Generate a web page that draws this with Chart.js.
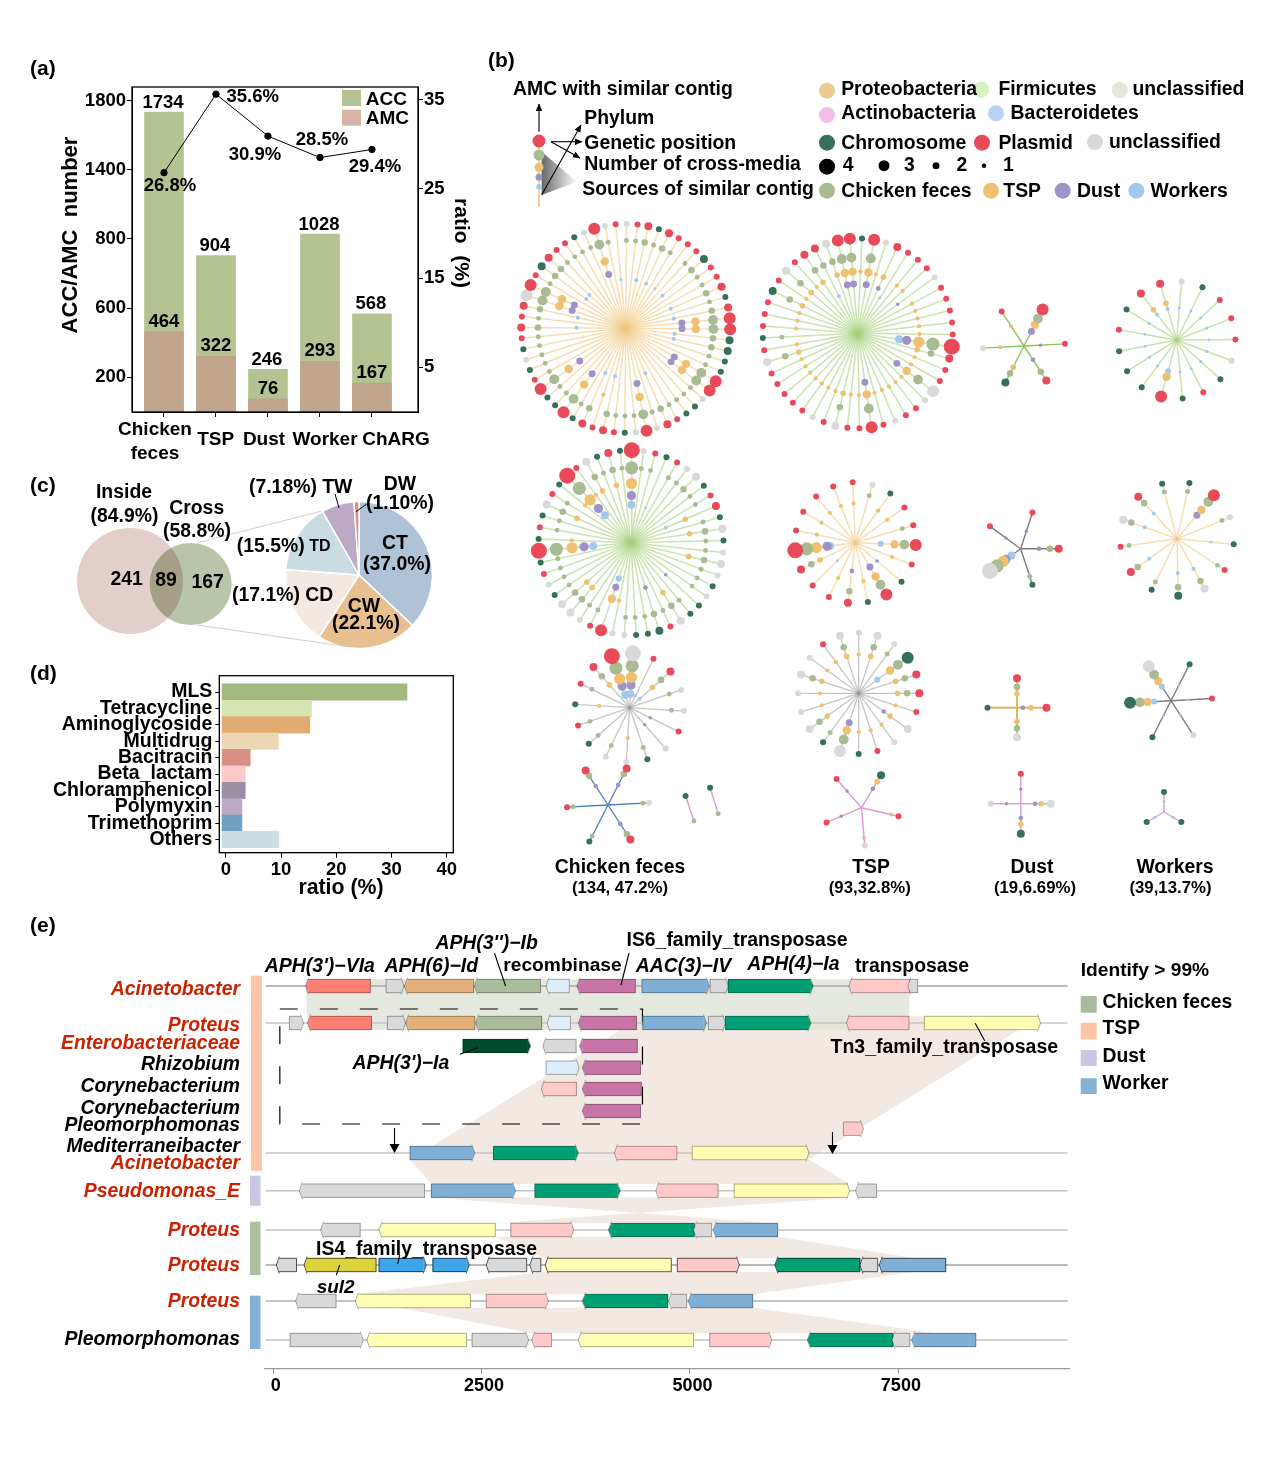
<!DOCTYPE html>
<html>
<head>
<meta charset="utf-8">
<script src="https://cdn.jsdelivr.net/npm/chart.js@4"></script>
<style>
html,body{margin:0;padding:0;background:#fff}
#page{position:relative;width:1269px;height:1467px;overflow:hidden;background:#fff;font-family:"Liberation Sans",Arial,sans-serif}
canvas{position:absolute;display:block}
#anno{position:absolute;left:0;top:0;z-index:2}
.t{position:absolute;white-space:pre;line-height:1;z-index:3;color:#000}
</style>
</head>
<body>
<div id="page">
<canvas id="chartA" width="375" height="340" style="left:80px;top:80px"></canvas>
<canvas id="chartB" width="770" height="650" style="left:490px;top:200px"></canvas>
<canvas id="chartVenn" width="170" height="120" style="left:70px;top:520px"></canvas>
<canvas id="chartPie" width="170" height="170" style="left:274px;top:490px"></canvas>
<canvas id="chartD" width="430" height="210" style="left:30px;top:670px"></canvas>
<canvas id="chartE" width="820" height="425" style="left:260px;top:975px"></canvas>
<svg id="anno" width="1269" height="1467" xmlns="http://www.w3.org/2000/svg">
  <defs>
    <marker id="ah" markerWidth="8" markerHeight="8" refX="6.5" refY="3" orient="auto"><path d="M0,0 L7,3 L0,6 Z" fill="#000"/></marker>
    <linearGradient id="fade" x1="0" x2="1" y1="0" y2="0"><stop offset="0" stop-color="#666"/><stop offset="1" stop-color="#fff"/></linearGradient>
  </defs>
  <!-- schematic in (b) -->
  <polygon points="541.6,151.7 577,181.7 541.6,195" fill="url(#fade)"/>
  <line x1="539" y1="141" x2="539" y2="206.7" stroke="#e8b04d" stroke-width="1.2"/>
  <circle cx="539" cy="141" r="6.5" fill="#e84a5a"/>
  <circle cx="539" cy="155" r="5.5" fill="#a9bb93"/>
  <circle cx="539" cy="167.3" r="4.5" fill="#efc06f"/>
  <circle cx="539" cy="177.3" r="3.5" fill="#9d93c9"/>
  <circle cx="539" cy="186.7" r="2.7" fill="#a3c8ee"/>
  <g stroke="#000" stroke-width="1.1" fill="none">
    <line x1="539" y1="131.7" x2="539" y2="104" marker-end="url(#ah)"/>
    <line x1="551" y1="141.7" x2="582" y2="141.7" marker-end="url(#ah)"/>
    <line x1="551" y1="141.7" x2="580" y2="158" marker-end="url(#ah)"/>
    <line x1="541.6" y1="195" x2="581" y2="125" marker-end="url(#ah)"/>
  </g>
  <!-- (c) connectors and pie leaders -->
  <g stroke="#cfcfcf" stroke-width="1">
    <line x1="196.7" y1="543" x2="321.7" y2="511"/>
    <line x1="197" y1="625" x2="348" y2="646.7"/>
  </g>
  <g stroke="#000" stroke-width="1">
    <line x1="335" y1="494" x2="339" y2="508"/>
    <line x1="366.7" y1="504" x2="356" y2="511.7"/>
  </g>
  <!-- (e) source strips -->
  <rect x="251" y="975.7" width="11" height="195" fill="#ffc4a8"/>
  <rect x="250" y="1175.7" width="10.5" height="30" fill="#c9c6e2"/>
  <rect x="250" y="1221.7" width="10.5" height="53.3" fill="#adc0a0"/>
  <rect x="250" y="1295.7" width="10.5" height="53.3" fill="#85b1d5"/>
  <!-- (e) legend squares -->
  <rect x="1080.7" y="996" width="16" height="16.7" fill="#a9bb9b"/>
  <rect x="1080.7" y="1022.7" width="16" height="16.6" fill="#ffc4a8"/>
  <rect x="1080.7" y="1050" width="16" height="16" fill="#c9c6e2"/>
  <rect x="1080.7" y="1078.3" width="16" height="15.7" fill="#85b1d5"/>
  <!-- (e) leaders and arrows -->
  <g stroke="#000" stroke-width="1.1">
    <line x1="494.5" y1="953.3" x2="505.6" y2="986"/>
    <line x1="629" y1="953" x2="621" y2="985"/>
    <line x1="459.8" y1="1054.3" x2="477.9" y2="1047.7"/>
    <line x1="975.2" y1="1023.3" x2="984.7" y2="1040.7"/>
    <line x1="397.7" y1="1264" x2="399.7" y2="1255"/>
    <line x1="336.4" y1="1275" x2="339.6" y2="1265"/>
    <line x1="394.5" y1="1128" x2="394.5" y2="1146"/>
    <line x1="832.5" y1="1132" x2="832.5" y2="1147"/>
  </g>
  <polygon points="389.5,1144 399.5,1144 394.5,1153" fill="#000"/>
  <polygon points="827.5,1145 837.5,1145 832.5,1154" fill="#000"/>
  <!-- (a) legend -->
  <rect x="342" y="90" width="19" height="16" fill="#b5c393"/>
  <rect x="342" y="109.7" width="19" height="16" fill="#d6b5a8"/>
</svg>
</div>
<script>
// ---------- (a) counts ----------
var sources = ['Chicken feces', 'TSP', 'Dust', 'Worker', 'ChARG'];
var accCounts = [1734, 904, 246, 1028, 568];
var amcCounts = [464, 322, 76, 293, 167];
var amcRatio = [26.8, 35.6, 30.9, 28.5, 29.4];
var countTicks = [200, 600, 1000, 1400, 1800];
var countTickLabels = ['200', '600', '800', '1400', '1800'];   // the figure prints 800 at this tick
var ratioTicks = [5, 15, 25, 35];

// ---------- (b) one entry per contig: position (P/C/U), optional size, then sources (c,t,d,w) ----------
var netChickenProteo = ['Uc','Pc','Pcw','Cc','Pcw','Pc','Pw','Pc','Ccw','Pc','Pc','Pcw','Cc','Pcw','Pctd','Pctd','Ccw','Ccw','Cc','Cc','Pctd','Pctd','Uc','Cc','Cc','Pc','Pcw','Uc','Pctd','Uc','Cc','Pc','Pcw','Pt','Pcw','Cc','Pctd','Cc','Cc','Pctd','Pc','Cc','Uc','Cc','Pc','Pcw','Pc','Pcw','Uctd','Pctd','Pc','Ccw','Pcw','Pc','Pc','Cc','Uc','Pctd','Uc','Pw'];
var netChickenFirm = ['Ct','Pctd','Ut','Ptd','Pw','Pt','Pt','Ud','Pt','Pt','Pt','Pt','Pt','Pctdw','Pct','Pt','Pt','Uctd','Ut','Pt','Pt','Ut','Pt','Pctd','Pt','Pt','Uct','Pt','Ut','Pt','Pt','Pt','Pt','Pt','Uct','Pt','Cc','Pt','Pt','Pt','Cct','Pt','Uct','Pt','Pct','Pcw','Uct','Pctd','Pctd'];
var netDustFirmA = ['Pctd','Pd','Pcd','Cct','Ut','Pt'];
var netWorkerFirmA = ['Uw','Cw','Pw','Pw','Pw','Uw','Cw','Pw','Cw','P3tw','Cw','Cw','Cw','Pw','Cw','Ptw','Ptw'];
var netChickenFirmB = ['Pctdw','Uc','Pc','Cw','Pc','Uc','U2c','Cc','Pc','Ptw','Cc','Uct','Cc','Uc','Uct','Uc','Cc','Uc','Cd','Cc','Uct','Pc','Ccd','Cc','Cc','Uc','Ut','Ptdw','Pc','Uc','Uct','Uct','Cc','Uc','Pc','Cc','Pctdw','Ct','Pc','Cc','Uct','Pc','Ct','Pctdw','Pt','Uct','Cc','Pct','Cc'];
var netTspProteo = ['Pt','Uc','Ct','Pt','Pc','Pctw','Pt','Cd','Pctd','Ct','Pcd','Pt','Pw','Pct','Pctdw','Pt','Pt','Pt','Pt'];
var netDustGrey = ['Pd','Pcd','Cc','Uctdw','Pd'];
var netWorkerProteo = ['Cc','Pctd','Uc','Cw','Pc','Ucw','Ccw','Cc','Pcw','Pc','Ucw','Pcw','Cc'];
var netChickenGrey = ['Uctdw','Pw','P2ctw','Uc','Uc','Pd','Ud','Cc','Ut','Uc','Cc','Pc','Ct','Pc','Pct','Pctdw'];
var netTspGrey = ['Ut','Uct','Uc','Cctw','Pct','Pct','Pt','Utd','Ut','Pt','Ct','Uctd','Cc','Uct','Ut','Ut','Uct','Ut','Pt','Uct'];
var netDustProteo = ['Pct','Ptd','Uct','C1'];
var netWorkerGrey = ['Cw','Pw','Uw','Cw','Cctw','Uctw'];
var netChickenBlue = ['Pcd','Uc','Pcd','Cc','Pc','Pcd'];
var netTspPink = ['Ctd','Pt','Ut','Pd','Pd'];
var netDustPink = ['Pd','Utd','Ctd','Ud'];
var netWorkerPink = ['Cw','Cw','Cw'];
var netPairA = ['Cc'];
var netPairB = ['Cc'];

// ---------- (c) ----------
var vennLabels = ['Inside', 'Cross'];
var pieLabels = ['CT', 'CW', 'CD', 'TD', 'TW', 'DW'];
var pieValues = [37.0, 22.1, 17.1, 15.5, 7.18, 1.10];

// ---------- (d) ----------
var drugClasses = ['MLS','Tetracycline','Aminoglycoside','Multidrug','Bacitracin','Beta_lactam','Chloramphenicol','Polymyxin','Trimethoprim','Others'];
var drugRatio = [32.8, 15.5, 15.2, 9.5, 4.4, 3.5, 3.5, 2.9, 2.9, 9.6];
var drugTicks = [0, 10, 20, 30, 40];

// ---------- (e) genes: start bp, end bp, strand, gene ----------
var contig0 = [[389,1166,-1,'aph3via'],[1355,1570,1,'hypo'],[1574,2405,-1,'aph6id'],[2414,3206,-1,'aph3ib'],[3273,3552,-1,'recomb'],[3643,4344,-1,'is6'],[4425,5232,1,'aac3iv'],[5242,5459,1,'hypo'],[5459,6478,1,'aph4ia'],[6906,7637,-1,'tnp'],[7613,7732,-1,'hypo']];
var contig1 = [[195,365,1,'hypo'],[413,1181,-1,'aph3via'],[1370,1589,1,'hypo'],[1589,2419,-1,'aph6id'],[2429,3221,-1,'aph3ib'],[3286,3566,-1,'recomb'],[3661,4358,-1,'is6'],[4435,5198,1,'aac3iv'],[5222,5426,1,'hypo'],[5426,6451,1,'aph4ia'],[6877,7627,-1,'tnp'],[7812,9206,1,'tn3']];
var contig2 = [[2277,3088,1,'aph3ia'],[3235,3634,-1,'hypo'],[3676,4368,-1,'is6']];
var contig3 = [[3274,3670,1,'recomb'],[3709,4406,-1,'is6']];
var contig4 = [[3216,3638,-1,'tnp'],[3709,4416,-1,'is6']];
var contig5 = [[3709,4406,-1,'is6']];
var contig6 = [[6840,7081,1,'tnp']];
var contig7 = [[1642,2419,1,'aac3iv'],[2642,3661,1,'aph4ia'],[4093,4843,-1,'tnp'],[5028,6427,1,'tn3']];
var contig8 = [[313,1817,-1,'hypo'],[1897,2908,1,'aac3iv'],[3140,4164,1,'aph4ia'],[4591,5336,-1,'tnp'],[5530,6916,1,'tn3'],[6986,7238,-1,'hypo']];
var contig9 = [[569,1044,-1,'hypo'],[1270,2665,-1,'tn3'],[2851,3605,1,'tnp'],[4022,5052,-1,'aph4ia'],[5042,5260,-1,'hypo'],[5278,6052,-1,'aac3iv']];
var contig10 = [[38,280,-1,'hypo'],[370,1234,-1,'sul2'],[1270,1836,1,'is4'],[1916,2352,1,'is4'],[2556,3041,-1,'hypo'],[3078,3211,-1,'hypo'],[3263,4776,-1,'tn3'],[4848,5592,1,'tnp'],[6019,7039,-1,'aph4ia'],[7039,7252,-1,'hypo'],[7270,8068,-1,'aac3iv']];
var contig11 = [[270,754,-1,'hypo'],[986,2366,-1,'tn3'],[2556,3301,1,'tnp'],[3709,4734,-1,'aph4ia'],[4744,4961,-1,'hypo'],[4980,5753,-1,'aac3iv']];
var contig12 = [[204,1081,1,'hypo'],[1124,2320,-1,'tn3'],[2386,3064,1,'hypo'],[3102,3340,-1,'tnp'],[3661,5042,-1,'tn3'],[5237,5981,1,'tnp'],[6408,7436,-1,'aph4ia'],[7423,7637,-1,'hypo'],[7660,8429,-1,'aac3iv']];
var axisTicksE = [0, 2500, 5000, 7500];

// ---------- helpers ----------
Chart.defaults.font.family = '"Liberation Sans", Arial, sans-serif';
Chart.defaults.font.weight = 'bold';
Chart.defaults.color = '#000';
Chart.defaults.animation = false;
Chart.defaults.responsive = false;
Chart.defaults.maintainAspectRatio = false;
Chart.defaults.layout.autoPadding = false;
Chart.defaults.plugins.legend.display = false;
Chart.defaults.plugins.tooltip.enabled = false;

var page = document.getElementById('page');
function T(s, x, y, size, o) {
    o = o || {};
    var d = document.createElement('div');
    d.className = 't';
    d.textContent = s;
    d.style.left = x + 'px';
    d.style.top = y + 'px';
    d.style.fontSize = size + 'px';
    d.style.fontWeight = o.weight || 'bold';
    if (o.italic) d.style.fontStyle = 'italic';
    if (o.color) d.style.color = o.color;
    var tx = o.a == 'l' ? '0' : (o.a == 'r' ? '-100%' : '-50%');
    d.style.transform = 'translate(' + tx + ',-50%)' + (o.rot ? ' rotate(' + o.rot + 'deg)' : '');
    page.appendChild(d);
}
function dot(x, y, r, c) {
    var e = document.createElementNS('http://www.w3.org/2000/svg', 'circle');
    e.setAttribute('cx', x); e.setAttribute('cy', y); e.setAttribute('r', r); e.setAttribute('fill', c);
    document.getElementById('anno').appendChild(e);
}
var frame = {
    id: 'frame',
    afterDatasetsDraw: function (chart) {
        var a = chart.chartArea, c = chart.ctx;
        c.save();
        c.strokeStyle = '#000';
        c.lineWidth = 1.3;
        c.strokeRect(a.left, a.top, a.right - a.left, a.bottom - a.top);
        c.restore();
    }
};
function fixedTicks(values) {
    return function (scale) { scale.ticks = values.map(function (v) { return { value: v }; }); };
}
// pin an axis box to a set size so the plot area lands where the figure has it
function boxSize(side, px) {
    return function (s) {
        s[side] = px;
        s.paddingTop = s.paddingBottom = s.paddingLeft = s.paddingRight = 0;
    };
}
var tickMarks = { drawOnChartArea: false, tickLength: 5, color: '#000', offset: false };

// ---------- (a) ----------
var xySlots = function (vals) { return vals.map(function (v, i) { return { x: i + 1, y: v }; }); };
var chartA = new Chart(document.getElementById('chartA'), {
    type: 'bar',
    data: {
        datasets: [
            { label: 'Ratio', type: 'line', yAxisID: 'y1', data: xySlots(amcRatio), borderColor: '#000', borderWidth: 1, backgroundColor: '#000', pointRadius: 3.2, order: 0 },
            { label: 'AMC', data: xySlots(amcCounts), backgroundColor: '#c0a48c', barThickness: 39, grouped: false, order: 1 },
            { label: 'ACC', data: xySlots(accCounts), backgroundColor: '#b5c393', barThickness: 39, grouped: false, order: 2 }
        ]
    },
    options: {
        layout: { padding: { top: 7 } },
        scales: {
            x: {
                type: 'linear', offset: false, min: 0.385, max: 5.885,
                afterBuildTicks: fixedTicks([1, 2, 3, 4, 5]),
                afterFit: boxSize('height', 8),
                ticks: { display: false },
                grid: tickMarks,
                border: { color: '#000' }
            },
            y: {
                position: 'left', min: 0, max: 1878.6,
                afterBuildTicks: fixedTicks(countTicks),
                afterFit: boxSize('width', 52),
                ticks: {
                    autoSkip: false, padding: 1, font: { size: 18.5 },
                    callback: function (v) { return countTickLabels[countTicks.indexOf(v)]; }
                },
                grid: tickMarks,
                border: { color: '#000' }
            },
            y1: {
                position: 'right', min: 0, max: 36.4,
                afterBuildTicks: fixedTicks(ratioTicks),
                afterFit: boxSize('width', 37),
                ticks: { autoSkip: false, padding: 1, font: { size: 18.5 } },
                grid: tickMarks,
                border: { color: '#000' }
            }
        }
    },
    plugins: [frame]
});
function pageX(v) { return 80 + v; }
function pageY(v) { return 80 + v; }
var metaLine = chartA.getDatasetMeta(0).data, metaAmc = chartA.getDatasetMeta(1).data, metaAcc = chartA.getDatasetMeta(2).data;
accCounts.forEach(function (v, i) { T(String(v), pageX(metaAcc[i].x) - 1, pageY(metaAcc[i].y) - 10.5, 18.5); });
amcCounts.forEach(function (v, i) { T(String(v), pageX(metaAmc[i].x), pageY(metaAmc[i].y) - 11, 18.5); });
var ratioLabelDx = [6, 36.7, -13, 2, 3], ratioLabelDy = [12.7, 1.5, 17.5, -19, 16];
amcRatio.forEach(function (v, i) { T(v.toFixed(1) + '%', pageX(metaLine[i].x) + ratioLabelDx[i], pageY(metaLine[i].y) + ratioLabelDy[i], 18.5); });

T('(a)', 30, 67, 21, { a: 'l' });
T('ACC/AMC  number', 70, 235, 22, { rot: -90 }); 
T('ratio  (%)', 462, 242.7, 21, { rot: 90 });
T('ACC', 365.7, 97.7, 19, { a: 'l' });
T('AMC', 365.7, 116.7, 19, { a: 'l' });
T('Chicken', 155, 428, 19);
T('feces', 155, 451.7, 19);
T(sources[1], 215.7, 438, 19);
T(sources[2], 264, 438, 19);
T(sources[3], 325, 438, 19);
T(sources[4], 396, 438, 19);

// ---------- (b) ----------
var ringOrder = 'ctdw';
var nodeColor = { P: '#e84a5a', C: '#36705b', U: '#d9d9d9', c: '#a9bb93', t: '#efc06f', d: '#9d93c9', w: '#a3c8ee' };
var ringScale = { c: 0.82, t: 0.7, d: 0.58, w: 0.5 };
var sizeRadius = [3, 3, 4, 6, 8];
var edgeProteo = 'rgba(240,200,130,.6)', edgeFirm = 'rgba(165,208,125,.6)', edgeGrey = 'rgba(150,150,150,.55)';
// contigs, hub x/y on the page, outer radius, first spoke angle, rings for c,t,d,w, edge colour, edge width
var networks = [
    [netChickenProteo, 625.7, 328.3, 104.5, 0.5, [.84,.67,.54,.47], edgeProteo, 1.5],
    [netChickenFirm, 857.7, 333.3, 95, 2.6, [.8,.65,.52,.44], edgeFirm, 1.5],
    [netDustFirmA, 1024, 346, 41, 27, [.75,.58,.4,.3], '#8fc45a', 1.4],
    [netWorkerFirmA, 1176.7, 340, 58.7, 4.8, [.82,.65,.6,.55], 'rgba(170,210,130,.65)', 1.5],
    [netChickenFirmB, 631, 542.7, 92.5, 0.5, [.81,.64,.51,.41], edgeFirm, 1.5],
    [netTspProteo, 855.3, 542.7, 60.5, -2.5, [.81,.65,.47,.42], edgeProteo, 1.5],
    [netDustGrey, 1020.7, 548.7, 38, 18, [.77,.57,.48,.3], '#7d7d7d', 1.4],
    [netWorkerProteo, 1177, 538.7, 57, 12.6, [.85,.66,.54,.6], edgeProteo, 1.5],
    [netChickenGrey, 629.6, 707.7, 54.5, 3.5, [.77,.56,.42,.25], edgeGrey, 1.3],
    [netTspGrey, 858.7, 693.3, 60.6, 0, [.8,.64,.51,.38], edgeGrey, 1.3],
    [netDustProteo, 1017, 707.7, 29.5, 0, [.7,.47,.2,.1], '#e8b04d', 1.8],
    [netWorkerGrey, 1171, 700.7, 41, 27, [.76,.57,.5,.41], '#7d7d7d', 1.4],
    [netChickenBlue, 608, 805, 41, 27, [.85,.7,.55,.4], '#4a7fc0', 1.3],
    [netTspPink, 861.5, 807.7, 38, 31, [.85,.8,.58,.4], '#dc9ad6', 1.4],
    [netDustPink, 1020.8, 803.7, 30, 0, [.8,.68,.48,.4], '#dc9ad6', 1.4],
    [netWorkerPink, 1164, 812, 20, 0, [.8,.68,.6,.52], '#dc9ad6', 1.4],
    [netPairA, 694, 821, 26.4, 341.4, [0,0,0,0], '#dc9ad6', 1.4],
    [netPairB, 718.2, 813.7, 27.3, 342.7, [0,0,0,0], '#dc9ad6', 1.4]
];
var spokeSets = [];
var nodeBuckets = {};
Object.keys(nodeColor).forEach(function (k) { nodeBuckets[k] = []; });
networks.forEach(function (n) {
    var list = n[0], step = 360 / list.length;
    list.forEach(function (tok, i) {
        var m = tok.match(/^([PCU])(\d?)([ctdw]*)$/);
        var src = m[3];
        var count = m[2] ? +m[2] : Math.max(1, src.length);
        var a = (n[4] + step * i) * Math.PI / 180;
        var sx = Math.sin(a), cy = -Math.cos(a);
        spokeSets.push({
            type: 'line', order: 5, clip: false,
            data: [{ x: n[1], y: n[2] }, { x: n[1] + sx * n[3], y: n[2] + cy * n[3] }],
            borderColor: n[6], borderWidth: n[7], pointRadius: 0, fill: false
        });
        nodeBuckets[m[1]].push({ x: n[1] + sx * n[3], y: n[2] + cy * n[3], r: sizeRadius[count] });
        src.split('').forEach(function (s) {
            var ring = n[5][ringOrder.indexOf(s)];
            nodeBuckets[s].push({ x: n[1] + sx * n[3] * ring, y: n[2] + cy * n[3] * ring, r: sizeRadius[count] * ringScale[s] });
        });
    });
});
var nodeSets = Object.keys(nodeBuckets).map(function (k) {
    return { type: 'bubble', order: 1, clip: false, data: nodeBuckets[k], backgroundColor: nodeColor[k], borderWidth: 0 };
});
new Chart(document.getElementById('chartB'), {
    type: 'bubble',
    data: { datasets: spokeSets.concat(nodeSets) },
    options: {
        scales: {
            x: { type: 'linear', min: 490, max: 1260, display: false },
            y: { type: 'linear', min: 200, max: 850, reverse: true, display: false }
        }
    }
});

T('(b)', 488, 59, 21, { a: 'l' });
T('AMC with similar contig', 513, 89.3, 19.4, { a: 'l' });
T('Phylum', 584.3, 117.7, 19.4, { a: 'l' });
T('Genetic position', 584.3, 143.3, 19.4, { a: 'l' });
T('Number of cross-media', 584.3, 164.3, 19.4, { a: 'l' });
T('Sources of similar contig', 582.3, 189.3, 19.4, { a: 'l' });
// legend entries: label, dot x, dot y, radius, colour, text x
var legendB = [
    ['Proteobacteria', 827, 90.7, 8, '#ecc98c', 841.2, 89.3],
    ['Firmicutes', 981, 89.7, 8, '#d6f2c0', 998.4, 89.3],
    ['unclassified', 1119.7, 90, 8, '#e4e7de', 1132.4, 89.3],
    ['Actinobacteria', 827, 115, 8, '#f3bfe9', 841.2, 112.7],
    ['Bacteroidetes', 996, 113.3, 8, '#b9d1f2', 1010.6, 112.7],
    ['Chromosome', 827, 142.7, 8, '#36705b', 841.2, 143],
    ['Plasmid', 982, 142.7, 8, '#e84a5a', 998.4, 143],
    ['unclassified', 1095, 142, 8, '#d9d9d9', 1108.9, 142],
    ['4', 827, 166.7, 8, '#000', 842.7, 164.7],
    ['3', 884, 165.7, 5.5, '#000', 904, 164.7],
    ['2', 936, 165.7, 3.5, '#000', 956.6, 164.7],
    ['1', 984, 165.7, 2.3, '#000', 1003, 164.7],
    ['Chicken feces', 827, 190.7, 8, '#a9bb93', 841.2, 190.7],
    ['TSP', 991, 190.7, 8, '#efc06f', 1003.3, 190.7],
    ['Dust', 1062.7, 190.7, 8, '#9d93c9', 1077, 190.7],
    ['Workers', 1136.4, 190.7, 8, '#a3c8ee', 1150.6, 190.7]
];
legendB.forEach(function (l) {
    dot(l[1], l[2], l[3], l[4]);
    T(l[0], l[5], l[6], 19.4, { a: 'l' });
});
T('Chicken feces', 620, 867, 19.4);
T('(134, 47.2%)', 620, 888, 16.8);
T('TSP', 871, 867, 19.4);
T('(93,32.8%)', 869.8, 888, 16.8);
T('Dust', 1032, 867, 19.4);
T('(19,6.69%)', 1035, 888, 16.8);
T('Workers', 1175, 867, 19.4);
T('(39,13.7%)', 1170.5, 888, 16.8);

// ---------- (c) ----------
var multiply = {
    id: 'multiply',
    beforeDatasetsDraw: function (c) { c.ctx.globalCompositeOperation = 'multiply'; },
    afterDatasetsDraw: function (c) { c.ctx.globalCompositeOperation = 'source-over'; }
};
new Chart(document.getElementById('chartVenn'), {
    type: 'bubble',
    data: {
        labels: vennLabels,
        datasets: [
            { data: [{ x: 130, y: 581, r: 53 }], backgroundColor: '#e2cfca', borderWidth: 0, order: 2 },
            { data: [{ x: 190.7, y: 584, r: 41 }], backgroundColor: '#bac4aa', borderWidth: 0, order: 1 }
        ]
    },
    options: { scales: { x: { min: 70, max: 240, display: false }, y: { min: 520, max: 640, reverse: true, display: false } } },
    plugins: [multiply]
});
new Chart(document.getElementById('chartPie'), {
    type: 'pie',
    data: {
        labels: pieLabels,
        datasets: [{
            data: pieValues,
            backgroundColor: ['#b0c2d5', '#e8c08f', '#f2e9e3', '#c9dce1', '#bba9c5', '#d88f86'],
            borderColor: '#fff', borderWidth: 1.5
        }]
    },
    options: { radius: 73.5 }
});
T('(c)', 30, 484, 21, { a: 'l' });
T('Inside', 124, 492.3, 19.4);
T('(84.9%)', 124.5, 516, 19.4);
T('Cross', 196.7, 507.7, 19.4);
T('(58.8%)', 197, 531, 19.4);
T('241', 126.7, 579.3, 19.4);
T('89', 166, 580.3, 19.4);
T('167', 207.7, 582, 19.4);
T('(7.18%) TW', 300.7, 486.7, 19.4);
T('DW', 400, 484, 19.4);
T('(1.10%)', 400, 502.7, 19.4);
T('CT', 395, 543, 19.4);
T('(37.0%)', 397, 564, 19.4);
T('CW', 364, 606, 19.4);
T('(22.1%)', 366, 623, 19.4);
T('(17.1%) CD', 282.7, 595, 19.4);
T('(15.5%)', 270.7, 545.7, 19.4);
T('TD', 320, 546.3, 16);

// ---------- (d) ----------
new Chart(document.getElementById('chartD'), {
    type: 'bar',
    data: {
        datasets: [{
            indexAxis: 'y',
            data: drugRatio.map(function (v, i) { return { x: v, y: i }; }),
            backgroundColor: ['#a3b87f', '#d5e4b0', '#e2ac70', '#ebd7b3', '#da8f86', '#ffc9c9', '#9a90a4', '#bba9c5', '#6fa0bc', '#c9dde2'],
            barThickness: 16.4, base: -0.7, borderWidth: 0
        }]
    },
    options: {
        indexAxis: 'y',
        layout: { padding: { top: 5.7, right: 6.7 } },
        scales: {
            x: {
                type: 'linear', min: -1.2, max: 41.2,
                afterBuildTicks: fixedTicks(drugTicks),
                afterFit: boxSize('height', 27.3),
                ticks: { autoSkip: false, padding: 1, maxRotation: 0, font: { size: 18.5 } },
                grid: tickMarks, border: { color: '#000' }
            },
            y: {
                type: 'linear', offset: false, min: -1, max: 9.8, reverse: true,
                afterBuildTicks: fixedTicks(drugClasses.map(function (c, i) { return i; })),
                afterFit: boxSize('width', 189.3),
                ticks: {
                    autoSkip: false, padding: 3, font: { size: 19.5 },
                    callback: function (v) { return drugClasses[v]; }
                },
                grid: { drawOnChartArea: false, tickLength: 4, color: '#000', offset: false }, border: { color: '#000' }
            }
        }
    },
    plugins: [frame]
});
T('(d)', 30, 672, 21, { a: 'l' });
T('ratio (%)', 341, 888, 21.3);

// ---------- (e) ----------
var contigs = [contig0, contig1, contig2, contig3, contig4, contig5, contig6, contig7, contig8, contig9, contig10, contig11, contig12];
var rowPos = [986, 1023, 1046, 1067.7, 1089, 1111, 1128.7, 1153, 1190.7, 1230, 1265, 1301, 1340];
var trackRows = [0, 1, 7, 8, 9, 10, 11, 12];
var geneColor = {
    aph3via: '#fd7f73', hypo: '#d9d9d9', aph6id: '#e3b079', aph3ib: '#a8bc9b', recomb: '#deeefb', is6: '#c874a6',
    aac3iv: '#7fafd4', aph4ia: '#009f73', tnp: '#ffc9c9', tn3: '#feffb3', aph3ia: '#004d2e', sul2: '#ddd33d', is4: '#3ea5e8'
};
var tipBp = 36, halfBody = 6.7, halfHead = 8.5;
var trackSets = trackRows.map(function (r) {
    return {
        type: 'line', order: 5,
        data: [{ x: -90, y: rowPos[r] }, { x: 9530, y: rowPos[r] }],
        borderColor: r == 10 || r == 0 ? '#b8b8b8' : '#c4c4c4', borderWidth: r == 10 || r == 0 || r == 11 ? 2 : 1.5, pointRadius: 0
    };
});
var geneSets = Object.keys(geneColor).map(function (g) {
    var pts = [];
    contigs.forEach(function (genes, r) {
        genes.forEach(function (ge) {
            if (ge[3] == g) pts.push({ x: ge[2] < 0 ? [ge[0] + tipBp, ge[1]] : [ge[0], ge[1] - tipBp], y: rowPos[r] });
        });
    });
    return { type: 'bar', indexAxis: 'y', grouped: false, order: 1, barThickness: 13.4, data: pts, backgroundColor: geneColor[g], borderWidth: 0 };
});
// homology ribbons: rows and bp ends on the two contigs
var ribbons = [
    [1, 4435, 9206, 7, 1642, 6427, '#f2e9e3'],
    [7, 1642, 6427, 8, 1897, 6916, '#f2e9e3'],
    [8, 1897, 6916, 9, 6052, 2665, '#f2e9e3'],
    [9, 2665, 6052, 10, 3263, 7700, '#f2e9e3'],
    [10, 3263, 7700, 11, 986, 5753, '#f2e9e3'],
    [11, 1520, 5753, 12, 3100, 7960, '#f2e9e3'],
    [0, 389, 7637, 1, 413, 7627, 'rgba(222,226,215,.8)']
];
var geneMarks = {
    id: 'geneMarks',
    beforeDatasetsDraw: function (chart) {
        var c = chart.ctx, X = chart.scales.x, Y = chart.scales.y;
        c.save();
        ribbons.forEach(function (b) {
            var y0 = Y.getPixelForValue(rowPos[b[0]]) + halfBody, y1 = Y.getPixelForValue(rowPos[b[3]]) - halfBody;
            if (b[0] == 0 || b[0] == 1) { y0 = Y.getPixelForValue(rowPos[b[0]]) - halfBody; y1 = Y.getPixelForValue(rowPos[b[3]]) + halfBody; }
            c.fillStyle = b[6];
            c.beginPath();
            c.moveTo(X.getPixelForValue(b[1]), y0);
            c.lineTo(X.getPixelForValue(b[2]), y0);
            c.lineTo(X.getPixelForValue(b[5]), y1);
            c.lineTo(X.getPixelForValue(b[4]), y1);
            c.closePath();
            c.fill();
        });
        // dashed box around the IS6 fragments
        c.strokeStyle = '#000';
        c.lineWidth = 1.2;
        c.setLineDash([18, 22]);
        c.strokeRect(X.getPixelForValue(80), Y.getPixelForValue(1009), X.getPixelForValue(4430) - X.getPixelForValue(80), Y.getPixelForValue(1124) - Y.getPixelForValue(1009));
        c.restore();
    },
    afterDatasetsDraw: function (chart) {
        var c = chart.ctx, X = chart.scales.x, Y = chart.scales.y;
        c.save();
        contigs.forEach(function (genes, r) {
            var y = Y.getPixelForValue(rowPos[r]);
            var edge = r == 10 ? 'rgba(0,0,0,.8)' : 'rgba(0,0,0,.4)';
            genes.forEach(function (ge) {
                var a = X.getPixelForValue(ge[0]), b = X.getPixelForValue(ge[1]);
                var tip = ge[2] < 0 ? a : b, base = ge[2] < 0 ? X.getPixelForValue(ge[0] + tipBp) : X.getPixelForValue(ge[1] - tipBp);
                var flat = ge[2] < 0 ? b : a;
                c.fillStyle = geneColor[ge[3]];
                c.beginPath();
                c.moveTo(base, y - halfBody);
                c.lineTo(tip, y);
                c.lineTo(base, y + halfBody);
                c.closePath();
                c.fill();
                c.strokeStyle = edge;
                c.lineWidth = 0.8;
                c.beginPath();
                c.moveTo(base, y - halfHead); c.lineTo(tip, y); c.lineTo(base, y + halfHead);
                c.moveTo(base, y - halfBody); c.lineTo(flat, y - halfBody); c.lineTo(flat, y + halfBody); c.lineTo(base, y + halfBody);
                c.stroke();
            });
        });
        c.restore();
    }
};
new Chart(document.getElementById('chartE'), {
    type: 'bar',
    data: { datasets: trackSets.concat(geneSets) },
    options: {
        layout: { padding: { left: 4.5, right: 10.4 } },
        scales: {
            x: {
                type: 'linear', offset: false, min: -104, max: 9554,
                afterBuildTicks: fixedTicks(axisTicksE),
                afterFit: boxSize('height', 31.7),
                ticks: { autoSkip: false, padding: 2, maxRotation: 0, labelOffset: 2.5, font: { size: 18 }, callback: function (v) { return String(v); } },
                grid: { drawOnChartArea: false, tickLength: 5, color: '#888', offset: false },
                border: { color: '#999', width: 1.2 }
            },
            y: { type: 'linear', offset: false, min: 975, max: 1368.3, reverse: true, display: false }
        }
    },
    plugins: [geneMarks]
});
T('(e)', 30, 924, 21, { a: 'l' });
var red = '#cc2200';
// species label, y, colour
var speciesLabels = [
    ['Acinetobacter', 989, red], ['Proteus', 1025, red], ['Enterobacteriaceae', 1042.7, red],
    ['Rhizobium', 1064, '#000'], ['Corynebacterium', 1085.7, '#000'], ['Corynebacterium', 1107.7, '#000'],
    ['Pleomorphomonas', 1124.7, '#000'], ['Mediterraneibacter', 1146, '#000'], ['Acinetobacter', 1163.3, red],
    ['Pseudomonas_E', 1190.7, red], ['Proteus', 1230, red], ['Proteus', 1265, red], ['Proteus', 1301, red],
    ['Pleomorphomonas', 1339.3, '#000']
];
speciesLabels.forEach(function (s) { T(s[0], 240, s[1], 19.4, { a: 'r', italic: true, color: s[2] }); });
T("APH(3')\u2212VIa", 319.8, 965.7, 19.5, { italic: true });
T('APH(6)\u2212Id', 431.3, 965.7, 19.5, { italic: true });
T("APH(3'')\u2212Ib", 486.6, 943.3, 19.4, { italic: true });
T('recombinase', 562.5, 965, 19.2);
T('IS6_family_transposase', 737, 940, 19.4);
T('AAC(3)\u2212IV', 683.5, 965.7, 19.4, { italic: true });
T('APH(4)\u2212Ia', 793.4, 964, 19.4, { italic: true });
T('transposase', 912, 965.7, 19.4);
T('Tn3_family_transposase', 944.3, 1046.7, 19.5);
T("APH(3')\u2212Ia", 400.9, 1063, 19.4, { italic: true });
T('IS4_family_transposase', 426.6, 1249, 19.4);
T('sul2', 335.7, 1286, 19, { italic: true });
T('Identify > 99%', 1080.7, 970, 19.2, { a: 'l' });
T('Chicken feces', 1102.5, 1002.3, 19.3, { a: 'l' });
T('TSP', 1102.5, 1028.3, 19.3, { a: 'l' });
T('Dust', 1102.5, 1055.7, 19.3, { a: 'l' });
T('Worker', 1102.5, 1083.3, 19.3, { a: 'l' });
</script>
</body>
</html>
